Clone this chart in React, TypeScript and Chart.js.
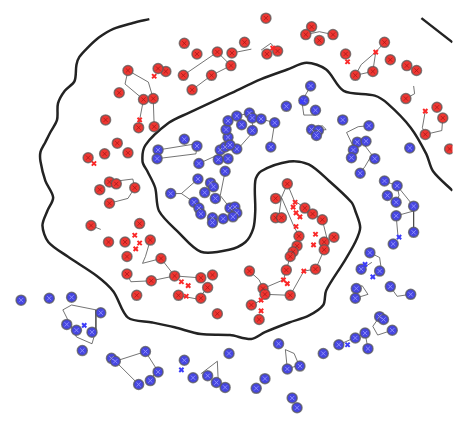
import React, { useEffect, useRef } from "react";
import { Chart, registerables } from "chart.js";

Chart.register(...registerables);

type P = [number, number];

// Class A (red) labelled samples
const redPoints: P[] = [
  [183, 38], [196, 49], [217, 47], [232, 48], [182, 71], [211, 71], [231, 61], [191, 86],
  [164, 67], [156, 64], [125, 66], [116, 89], [141, 96], [151, 95], [136, 125], [152, 124],
  [102, 117], [114, 141], [125, 151], [101, 152], [84, 156], [106, 181], [113, 183], [132, 187],
  [96, 189], [106, 203], [87, 226], [137, 224], [105, 243], [122, 243], [148, 241], [124, 258],
  [159, 260], [124, 276], [149, 283], [173, 278], [177, 298], [200, 280], [212, 277], [207, 290],
  [200, 301], [134, 298], [217, 317], [267, 12], [245, 37], [314, 21], [308, 29], [322, 35],
  [336, 29], [268, 49], [279, 46], [349, 49], [389, 37], [395, 55], [377, 67], [359, 71],
  [412, 61], [422, 66], [411, 95], [443, 104], [449, 115], [431, 132], [456, 147], [289, 183],
  [277, 198], [277, 218], [283, 218], [307, 208], [315, 214], [325, 220], [301, 237], [299, 247],
  [295, 253], [292, 258], [327, 243], [327, 251], [337, 238], [318, 271], [288, 272], [292, 298],
  [250, 273], [264, 291], [252, 308], [260, 323], [266, 297],
];

// Class A (red) unlabelled samples
const redSmall: P[] = [
  [152, 72], [137, 117], [90, 162], [132, 236], [137, 244], [133, 250], [180, 284], [187, 288],
  [185, 299], [274, 43], [351, 57], [380, 47], [431, 108], [297, 202], [295, 207], [298, 213],
  [302, 217], [298, 227], [318, 235], [316, 246], [306, 273], [285, 282], [289, 286], [262, 303],
  [262, 314],
];

// Class B (blue) labelled samples
const bluePoints: P[] = [
  [183, 137], [196, 144], [156, 148], [155, 157], [198, 162], [197, 178], [169, 193], [210, 182],
  [213, 186], [204, 192], [215, 198], [193, 202], [198, 208], [200, 214], [212, 218], [212, 223],
  [223, 219], [230, 208], [235, 207], [237, 213], [233, 217], [225, 170], [218, 158], [228, 157],
  [220, 148], [225, 145], [228, 135], [226, 127], [228, 118], [237, 113], [250, 110], [253, 115],
  [242, 122], [253, 128], [237, 147], [230, 143], [262, 116], [276, 120], [272, 145], [313, 82],
  [306, 97], [318, 107], [288, 103], [314, 127], [321, 128], [319, 133], [346, 117], [373, 123],
  [361, 140], [370, 139], [357, 148], [355, 156], [379, 157], [364, 172], [415, 146], [389, 180],
  [402, 185], [392, 195], [401, 202], [419, 206], [401, 216], [419, 233], [398, 245], [374, 254],
  [365, 271], [384, 273], [360, 291], [359, 301], [395, 289], [416, 297], [384, 320], [388, 323],
  [397, 334], [369, 337], [359, 342], [372, 353], [342, 349], [326, 358], [280, 348], [289, 374],
  [302, 371], [266, 384], [257, 394], [294, 404], [299, 414], [229, 358], [225, 393], [216, 388],
  [207, 381], [192, 383], [183, 365], [143, 356], [156, 377], [148, 386], [136, 390], [108, 363],
  [112, 366], [78, 355], [88, 336], [72, 334], [62, 328], [97, 316], [67, 300], [44, 301],
  [15, 303],
];

// Class B (blue) unlabelled samples
const blueSmall: P[] = [
  [304, 98], [404, 238], [369, 266], [377, 279], [351, 349], [180, 375], [80, 329],
];

// neighbourhood graph edges (polylines)
const redEdges: P[][] = [
  [[182, 71], [217, 47]],
  [[191, 86], [211, 71], [231, 61], [217, 47]],
  [[232, 48], [252, 44]],
  [[262, 45], [272, 38], [279, 46]],
  [[125, 66], [146, 78], [151, 95], [152, 124]],
  [[125, 66], [122, 80], [141, 96], [137, 117], [136, 125]],
  [[106, 181], [130, 178], [132, 187], [125, 198], [106, 203]],
  [[148, 241], [143, 258], [140, 265], [159, 260], [173, 278]],
  [[124, 276], [128, 284], [149, 283], [173, 278], [200, 280]],
  [[177, 298], [197, 302], [207, 290]],
  [[87, 226], [97, 230]],
  [[289, 183], [283, 197], [280, 218]],
  [[289, 183], [296, 200], [307, 208], [325, 220], [330, 240], [327, 251], [318, 271], [306, 273], [292, 298]],
  [[283, 197], [295, 225], [301, 237], [299, 247], [292, 258], [285, 282], [264, 291]],
  [[250, 273], [260, 282], [264, 291], [267, 297], [292, 298]],
  [[252, 308], [262, 303]],
  [[359, 71], [377, 67], [380, 47], [389, 37]],
  [[359, 71], [365, 60], [380, 47]],
  [[431, 108], [428, 125], [431, 132], [448, 128], [449, 115]],
  [[411, 95], [420, 90], [419, 82]],
  [[308, 29], [322, 26], [336, 29]],
];

const blueEdges: P[][] = [
  [[156, 148], [193, 142]],
  [[155, 157], [195, 152], [196, 144]],
  [[198, 162], [220, 152], [225, 145]],
  [[228, 118], [237, 113], [250, 110], [255, 128], [240, 145]],
  [[169, 193], [180, 193], [197, 178]],
  [[180, 193], [193, 202]],
  [[225, 170], [220, 195], [230, 208]],
  [[200, 379], [217, 366], [218, 389]],
  [[58, 313], [67, 308], [92, 313], [92, 334], [88, 348], [72, 341], [58, 313]],
  [[112, 366], [143, 356], [155, 375], [148, 386]],
  [[112, 366], [133, 387]],
  [[287, 354], [296, 358], [301, 370], [289, 374], [287, 354]],
  [[384, 320], [377, 330], [382, 339], [397, 334]],
  [[342, 349], [369, 337], [372, 353]],
  [[374, 254], [384, 259], [386, 273]],
  [[365, 271], [376, 264]],
  [[360, 291], [366, 288], [372, 297], [359, 301]],
  [[395, 289], [402, 299], [416, 297]],
  [[401, 216], [419, 211], [419, 233]],
  [[401, 216], [403, 238]],
  [[359, 149], [350, 130], [362, 124], [373, 123]],
  [[366, 140], [376, 153], [369, 165], [364, 172]],
  [[389, 180], [402, 185], [404, 195], [401, 202]],
  [[402, 185], [419, 206]],
  [[304, 98], [306, 112], [318, 112], [318, 107]],
  [[313, 82], [305, 96]],
  [[314, 127], [325, 123], [329, 127], [321, 128]],
  [[262, 116], [276, 120], [272, 145]],
];

// decision boundary
const boundaryMain: P[] = [
  [147, 13], [130, 17], [110, 23], [95, 32], [83, 43], [75, 52], [72, 60], [70, 77], [60, 87],
  [53, 100], [52, 117], [45, 130], [40, 140], [35, 150], [35, 160], [40, 180], [48, 197],
  [42, 211], [37, 226], [43, 243], [63, 258], [93, 278], [110, 294], [125, 321], [150, 326],
  [173, 331], [200, 338], [230, 339], [252, 343], [266, 336], [291, 326], [311, 319], [326, 308],
  [329, 293], [347, 264], [359, 243], [364, 228], [359, 211], [355, 202], [332, 180], [311, 163],
  [291, 160], [262, 170], [256, 180], [256, 211], [254, 229], [246, 243], [229, 251], [200, 253],
  [177, 233], [157, 211], [153, 187], [145, 170], [140, 160], [143, 143], [167, 120], [187, 110],
  [230, 90], [262, 75], [289, 65], [309, 58], [329, 65], [347, 87], [379, 92], [392, 100],
  [416, 125], [432, 152], [439, 170], [459, 190],
];
const boundaryCorner: P[] = [[427, 12], [459, 37]];

const toXY = (arr: P[]) => arr.map(([x, y]) => ({ x, y }));

export default function App() {
  const ref = useRef<HTMLCanvasElement | null>(null);

  useEffect(() => {
    document.body.style.margin = "0";
    const canvas = ref.current;
    if (!canvas) return;

    const edgeSet = (list: P[][]) =>
      list.map((pl) => ({
        type: "line" as const,
        data: toXY(pl),
        showLine: true,
        borderColor: "rgba(70,70,70,0.75)",
        borderWidth: 1,
        pointRadius: 0,
        fill: false,
        tension: 0,
        order: 5,
      }));

    const datasets: any[] = [
      ...edgeSet(redEdges),
      ...edgeSet(blueEdges),
      {
        type: "line",
        data: toXY(boundaryMain),
        showLine: true,
        borderColor: "rgb(35,35,35)",
        borderWidth: 2.5,
        pointRadius: 0,
        fill: false,
        tension: 0.3,
        order: 4,
      },
      {
        type: "line",
        data: toXY(boundaryCorner),
        showLine: true,
        borderColor: "rgb(35,35,35)",
        borderWidth: 2.5,
        pointRadius: 0,
        fill: false,
        order: 4,
      },
      {
        type: "scatter",
        data: toXY(redPoints),
        pointStyle: "circle",
        pointRadius: 5,
        backgroundColor: "rgb(238,55,50)",
        borderColor: "rgba(90,90,90,0.75)",
        borderWidth: 1.5,
        order: 3,
      },
      {
        type: "scatter",
        data: toXY(bluePoints),
        pointStyle: "circle",
        pointRadius: 5,
        backgroundColor: "rgb(70,70,225)",
        borderColor: "rgba(90,90,90,0.75)",
        borderWidth: 1.5,
        order: 3,
      },
      {
        type: "scatter",
        data: toXY(redPoints),
        pointStyle: "crossRot",
        pointRadius: 3,
        borderColor: "rgba(160,20,20,0.7)",
        borderWidth: 1,
        order: 2,
      },
      {
        type: "scatter",
        data: toXY(bluePoints),
        pointStyle: "crossRot",
        pointRadius: 3,
        borderColor: "rgba(150,150,255,0.85)",
        borderWidth: 1,
        order: 2,
      },
      {
        type: "scatter",
        data: toXY(redSmall),
        pointStyle: "crossRot",
        pointRadius: 3,
        borderColor: "rgb(250,40,40)",
        borderWidth: 2,
        order: 1,
      },
      {
        type: "scatter",
        data: toXY(blueSmall),
        pointStyle: "crossRot",
        pointRadius: 3,
        borderColor: "rgb(60,60,250)",
        borderWidth: 2,
        order: 1,
      },
    ];

    const chart = new Chart(canvas, {
      type: "scatter",
      data: { datasets },
      options: {
        animation: false,
        responsive: false,
        devicePixelRatio: 1,
        layout: { padding: 0 },
        plugins: { legend: { display: false }, tooltip: { enabled: false } },
        scales: {
          x: { type: "linear", min: 0, max: 459, display: false },
          y: { type: "linear", min: 0, max: 422, reverse: true, display: false },
        },
      },
    });
    return () => chart.destroy();
  }, []);

  return (
    <div style={{ position: "absolute", left: 0, top: 0, width: 459, height: 422, background: "#fff" }}>
      <canvas ref={ref} width={459} height={422} style={{ width: 459, height: 422, display: "block" }} />
    </div>
  );
}
